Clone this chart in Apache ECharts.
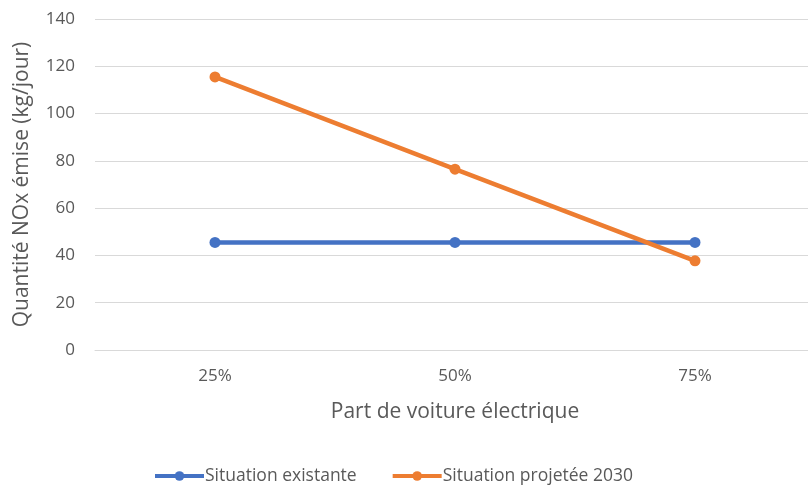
<!DOCTYPE html>
<html><head><meta charset="utf-8">
<script src="https://cdn.jsdelivr.net/npm/echarts@6/dist/echarts.min.js"></script>
<style>html,body{margin:0;padding:0;background:#fff;overflow:hidden}#c{width:815px;height:489px}</style>
</head><body><div id="c"></div>
<script>
const categories = ['25%', '50%', '75%'];
const existante = [45.5, 45.5, 45.5];
const projetee = [115.5, 76.5, 37.7];
const yTicks = {min: 0, max: 140, interval: 20};
const seriesNames = ['Situation existante', 'Situation projetée 2030'];
const colors = ['#4472C4', '#ED7D31'];
const font = 'Open Sans';

const chart = echarts.init(document.getElementById('c'), null, {renderer: 'canvas'});
chart.setOption({
  animation: false,
  color: colors,
  grid: {left: 95, top: 19, right: 0, height: 331, containLabel: false},
  xAxis: {
    type: 'category', data: categories, boundaryGap: true,
    name: 'Part de voiture électrique', nameLocation: 'middle', nameGap: 52,
    nameTextStyle: {color: '#595959', fontSize: 21, fontFamily: font},
    axisLine: {show: true, lineStyle: {color: '#d9d9d9'}},
    axisTick: {show: false},
    axisLabel: {color: '#595959', fontSize: 17, fontFamily: font, margin: 18}
  },
  yAxis: {
    type: 'value', min: yTicks.min, max: yTicks.max, interval: yTicks.interval,
    name: 'Quantité NOx émise (kg/jour)', nameLocation: 'middle', nameGap: 62,
    nameTextStyle: {color: '#595959', fontSize: 21, fontFamily: font},
    axisLine: {show: false}, axisTick: {show: false},
    axisLabel: {color: '#595959', fontSize: 17, fontFamily: font, margin: 20},
    splitLine: {lineStyle: {color: '#d9d9d9', width: 1}}
  },
  legend: {
    bottom: -1, left: 148, itemWidth: 49, itemHeight: 12, itemGap: 34,
    lineStyle: {width: 4},
    textStyle: {color: '#595959', fontSize: 17.5, fontFamily: font, padding: [0,0,0,-4]},
    data: seriesNames
  },
  series: [
    {name: seriesNames[0], type: 'line', data: existante, symbol: 'circle', symbolSize: 11,
     lineStyle: {width: 4.5, color: colors[0]}, itemStyle: {color: colors[0]}},
    {name: seriesNames[1], type: 'line', data: projetee, symbol: 'circle', symbolSize: 11,
     lineStyle: {width: 4.5, color: colors[1]}, itemStyle: {color: colors[1]}}
  ]
});
</script></body></html>
